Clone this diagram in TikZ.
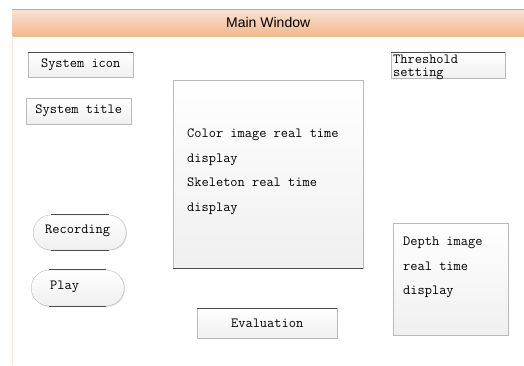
\documentclass[tikz,border=0pt]{standalone}
\usepackage{fontspec}
\newfontfamily\barfont{Liberation Sans}
\usetikzlibrary{positioning}
\usetikzlibrary{shadows}
\usetikzlibrary{shapes.misc}

\definecolor{barTop}{HTML}{FAE3D3}
\definecolor{barBottom}{HTML}{F1B88B}
\definecolor{barLine}{HTML}{E8A070}

\begin{document}
\begin{tikzpicture}[x=1pt,y=-1pt,
    widget/.style={draw=gray!55, top color=white, bottom color=gray!12,
      inner sep=0pt, anchor=north west,
      drop shadow={shadow xshift=0.8pt, shadow yshift=-0.8pt, opacity=0.25},
      font=\ttfamily\fontsize{14}{24}\selectfont},
    button/.style={widget, rounded rectangle, anchor=west},
    txt/.style={inner sep=0pt, anchor=north west, align=left,
      font=\ttfamily\fontsize{14}{24.5}\selectfont},
    darkline/.style={draw=black!70, line width=1pt}]
  \useasboundingbox (0,0) rectangle (524,365);

  % title bar and window edge
  \node[top color=barTop, bottom color=barBottom, draw=none, inner sep=0pt,
      anchor=north west, minimum width=512pt, minimum height=27pt,
      font=\barfont\fontsize{14}{16}\selectfont] (mainbar) at (12,9) {Main Window};
  \draw[barLine] (mainbar.north west) -- (mainbar.north east);
  \coordinate (winbottom) at (12,365);
  \draw[barTop, line width=1pt] (mainbar.south west) -- (winbottom);

  % left column
  \node[widget, minimum width=105pt, minimum height=25pt] (icon)  at (28,52)  {System icon};
  \node[widget, minimum width=105pt, minimum height=26pt] (title) at (26,98)  {System title};
  \node[button, minimum width=93pt, minimum height=35pt] (rec)  at (33,232.5) {};
  \node[txt, anchor=west] (rectext) at (45,231) {Recording};
  \node[button, minimum width=93pt, minimum height=36pt] (play) at (31,288) {};
  \node[txt, anchor=west] (playtext) at (50,286.5) {Play};

  % centre
  \node[widget, minimum width=190pt, minimum height=188pt] (color) at (173,80) {};
  \node[txt] (colortext) at (187,129)
    {Color image real time\\display\\Skeleton real time\\display};
  \node[widget, minimum width=140pt, minimum height=30pt] (eval) at (197,308) {Evaluation};

  % right column
  \node[widget, minimum width=114pt, minimum height=26pt] (thr) at (391,52) {};
  \node[txt, font=\ttfamily\fontsize{14}{12.5}\selectfont] (thrtext)
    at (393,55) {Threshold\\setting};
  \node[widget, minimum width=115pt, minimum height=112pt] (depth) at (393,223) {};
  \node[txt] (depthtext) at (403,237) {Depth image\\real time\\display};

  % darker edges
  \draw[darkline] (icon.north west) -- (icon.north east);
  \draw[darkline] (thr.north west) -- (thr.north east);
  \draw[darkline] (eval.north west) -- (eval.north east);
  \draw[darkline] (color.south west) -- (color.south east);
  \draw[darkline] (rec.north west) -- (rec.north east);
  \draw[darkline] (rec.south west) -- (rec.south east);
  \draw[darkline] (play.north west) -- (play.north east);
  \draw[darkline] (play.south west) -- (play.south east);
\end{tikzpicture}
\end{document}
